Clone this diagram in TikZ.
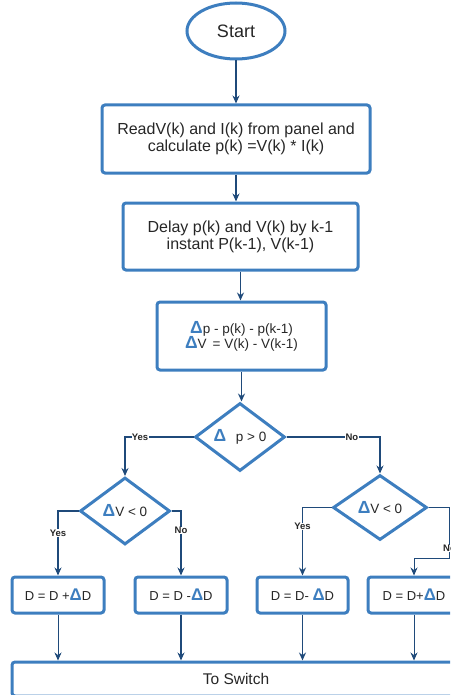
\documentclass[tikz,border=0pt]{standalone}
\usepackage{fontspec}
\setmainfont{Liberation Sans}
\usetikzlibrary{shapes.geometric,arrows.meta}
\definecolor{boxblue}{HTML}{3D7EBF}
\definecolor{arrowblue}{HTML}{1F4A7A}
\definecolor{txtgray}{HTML}{262626}
\newcommand{\dlt}{\textcolor{boxblue}{\scalebox{1.3}{\textbf{Δ}}}}
\newcommand{\fs}[1]{\fontsize{#1}{#1}\selectfont}

\begin{document}
\begin{tikzpicture}[x=1pt,y=-1pt,->,>={Stealth[length=8pt,width=7pt]},
  bloc/.style={rectangle,draw=boxblue,line width=3pt,rounded corners=3pt,
    text=txtgray,align=center,inner sep=0pt},
  choix/.style={diamond,draw=boxblue,line width=3pt,text=txtgray,
    inner sep=0pt,aspect=1.3},
  lien/.style={draw=arrowblue,line width=1.5pt},
  fin/.style={draw=arrowblue,line width=0.8pt},
  lbl/.style={fill=white,font=\bfseries\fs{9.5},inner sep=0.3pt,text=txtgray}]
\useasboundingbox (0,0) rectangle (450,695);
\clip (0,0) rectangle (450,695);
\node [ellipse,draw=boxblue,line width=3pt,text=txtgray,minimum width=98pt,
  minimum height=56pt,font=\fs{18}] (start) at (236,31) {Start};
\node [bloc,minimum width=268pt,minimum height=68pt,font=\fs{16}] (lire) at (236,139)
  {ReadV(k) and I(k) from panel and\\[1pt] calculate p(k) =V(k) * I(k)};
\node [bloc,minimum width=235pt,minimum height=67pt,font=\fs{16}] (delai) at (240.5,236.5)
  {Delay p(k) and V(k) by k-1\\[1pt] instant P(k-1), V(k-1)};
\node [bloc,minimum width=169pt,minimum height=68pt,font=\fs{13.5}] (delta) at (241.5,336)
  {\dlt p - p(k) - p(k-1)\\[-1pt] \dlt V\, = V(k) - V(k-1)};
\node [choix,minimum width=90pt,minimum height=68pt,font=\fs{13.5}] (testp) at (240,437)
  {\dlt\hspace{6pt} p > 0};
\node [choix,minimum width=90pt,minimum height=67pt,font=\fs{13.5}] (testva) at (125,511)
  {\dlt V < 0};
\node [choix,minimum width=94pt,minimum height=65pt,font=\fs{13.5}] (testvb) at (380,507.5)
  {\dlt V < 0};
\node [bloc,minimum width=92pt,minimum height=36pt,font=\fs{13}] (da) at (58,595) {D = D +\dlt D};
\node [bloc,minimum width=92pt,minimum height=36pt,font=\fs{13}] (db) at (181,595) {D = D -\dlt D};
\node [bloc,minimum width=91pt,minimum height=36pt,font=\fs{13}] (dc) at (302.5,595) {D = D- \dlt D};
\node [bloc,minimum width=92pt,minimum height=36pt,font=\fs{13}] (dd) at (414,595) {D = D+\dlt D};
\node [bloc,minimum width=448pt,minimum height=34pt,font=\fs{15.5}] (sw) at (236,679) {To Switch};

% Dessiner les chemins
\draw[lien] (start.south) -- (lire.north);
\draw[lien] (lire.south) -- (lire.south |- delai.north);
\draw[lien] (delai.south) -- (delai.south |- delta.north);
\draw[lien] (delta.south) -- (delta.south |- testp.north);
\draw[lien] (testp.west) -| node[lbl,pos=0.39] {Yes} (testva.north);
\draw[lien] (testp.east) -| node[lbl,pos=0.35] {No} (testvb.north);
\draw[lien] (testva.west) -| node[lbl,pos=0.67] {Yes} (da.north);
\draw[lien] (testva.east) -| node[lbl,pos=0.65] {No} (db.north);
\draw[lien] (testvb.west) -| node[lbl,pos=0.64] {Yes} (dc.north);
\draw[fin] (testvb.east) -- ++(21,0) -- node[lbl,pos=0.8] {No} ++(0,51) -| (dd.north);

% Vers le bloc final
\draw[fin] (da.south) -- (da.south |- sw.north);
\draw[lien] (db.south) -- (db.south |- sw.north);
\draw[lien] (dc.south) -- (dc.south |- sw.north);
\draw[fin] (dd.south) -- (dd.south |- sw.north);
\end{tikzpicture}
\end{document}
